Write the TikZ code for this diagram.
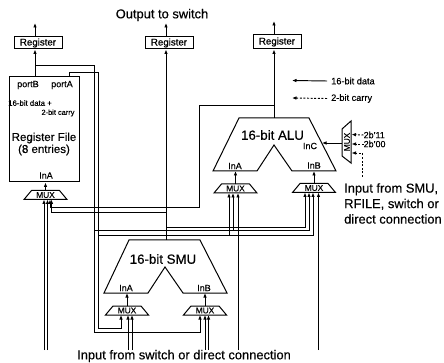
\documentclass[tikz,border=0pt]{standalone}
\usepackage{fontspec}
\setmainfont[FakeBold=0.35]{Liberation Sans}
\usetikzlibrary{arrows.meta,positioning}
\newcommand{\fsz}[2]{\fontsize{#1}{#2}\selectfont}

\begin{document}
\begin{tikzpicture}[x=1pt,y=-1pt,
        unit/.style={draw, line width=1pt, line join=miter},
        regbox/.style={draw, line width=1pt, inner sep=0pt, minimum width=48pt, minimum height=12pt, font=\fsz{9.7}{11}},
        bus/.style={line width=0.95pt, -{Latex[length=4.5pt,width=3.6pt]}},
        carry/.style={bus, dash pattern=on 2pt off 1.6pt},
        muxlabel/.style={inner sep=0pt, font=\fsz{8.3}{9}},
        portlabel/.style={inner sep=0pt, font=\fsz{9}{10}},
        unitlabel/.style={inner sep=0pt, font=\fsz{13.3}{15}},
        rflabel/.style={inner sep=0pt, font=\fsz{11.5}{13}},
        note/.style={inner sep=0pt, font=\fsz{12.9}{15.5}, align=left},
        legend/.style={inner sep=0pt, font=\fsz{9.2}{11}}]
    \useasboundingbox (0,0) rectangle (444,363);

    \node[note] (outlabel) at (162,15) {Output to switch};
    \node[regbox] (reglft) at (38,43) {Register};
    \node[regbox] (regmid) at (169,43) {Register};
    \node[regbox, minimum height=14pt] (regrgt) at (277,42) {Register};

    \node[unit, inner sep=0pt, minimum width=70pt, minimum height=105pt] (rfile) at (44,129.5) {};
    \node[portlabel] (portBtxt) at (28,85) {portB};
    \node[portlabel] (portAtxt) at (62,85) {portA};
    \node[inner sep=0pt, font=\fsz{7.8}{9}] (rfdata) at (30,103) {16-bit data +};
    \node[inner sep=0pt, font=\fsz{7.4}{9}] (rfcarry) at (58,113) {2-bit carry};
    \node[rflabel] (rfname) at (44,138) {Register File};
    \node[rflabel] (rfsize) at (44,150) {(8 entries)};
    \node[portlabel] (rfinA) at (46,175.5) {InA};

    % the two arithmetic blocks
    \draw[unit] (239,118) -- (309,118) -- (336,171) -- (292,171) -- (274,145) -- (257,171) -- (213,171) -- cycle;
    \node[unitlabel] (alu) at (272.5,135) {16-bit ALU};
    \node[portlabel] (aluinA) at (235,166) {InA};
    \node[portlabel] (aluinB) at (314,165.5) {InB};
    \node[portlabel] (aluinC) at (310,146) {InC};
    \draw[unit] (129,240) -- (200,240) -- (227,293) -- (183,293) -- (165,267) -- (148,293) -- (104,293) -- cycle;
    \node[unitlabel] (smu) at (163,259) {16-bit SMU};
    \node[portlabel] (smuinA) at (126,288) {InA};
    \node[portlabel] (smuinB) at (204,288) {InB};

    % multiplexers: name / centre / bottom edge
    \foreach \nm/\cx/\by in {muxrf/45.5/199.5, muxalua/235.5/193, muxalub/314/192.5, muxsmua/127/315, muxsmub/205/315} {
        \draw[unit] (\cx-21.5,\by) -- (\cx-14,\by-9) -- (\cx+14,\by-9) -- (\cx+21.5,\by) -- cycle;
        \node[muxlabel] (\nm) at (\cx,\by-4.5) {MUX};
        \coordinate (\nm-top) at (\cx,\by-9);
        \coordinate (\nm-bot) at (\cx,\by);
    }
    \draw[unit] (342,129) -- (351,121) -- (351,163) -- (342,156) -- cycle;
    \node[muxlabel, rotate=90] (muxc) at (347,142) {MUX};

    \coordinate (alutop) at (274,118);
    \coordinate (smutop) at (166,240);
    \coordinate (portB) at (35,77);
    \coordinate (portA) at (69,77);
    \coordinate (portAup) at (69,72);
    \coordinate (tapB) at (35,65);
    \coordinate (railB) at (94,332);
    \coordinate (railA) at (98,328);
    \coordinate (tapalu) at (274,105);
    \coordinate (turnalu) at (199.5,207);
    \coordinate (tapsmurf) at (166,212);
    \coordinate (tapsmualu) at (166,227);
    \coordinate (hB) at (94,230.5);
    \coordinate (hA) at (98,235);
    \coordinate (inbase) at (0,350);

    % outputs
    \foreach \nm/\xx/\yy in {reglft/35/23, regmid/166/23, regrgt/274/21} {
        \coordinate (\nm-out) at (\xx,\yy);
        \draw[bus] (\nm-out |- \nm.north) -- (\nm-out);
    }
    \draw[bus] (portB) -- (portB |- reglft.south);
    \draw[bus] (smutop) -- (smutop |- regmid.south);
    \draw[bus] (alutop) -- (alutop |- regrgt.south);

    % mux outputs
    \draw[bus] (muxrf-top) -- (muxrf-top |- rfile.south);
    \draw[bus] (muxalua-top) -- (muxalua-top |- 0,171);
    \draw[bus] (muxalub-top) -- (muxalub-top |- 0,171);
    \draw[bus] (muxsmua-top) -- (muxsmua-top |- 0,293);
    \draw[bus] (muxsmub-top) -- (muxsmub-top |- 0,293);

    % feedback rails
    \draw[bus] (tapB) -| (railB) -| ([xshift=-5pt]muxsmub-bot);
    \draw[bus] (portA) -- (portAup) -| (railA) -| ([xshift=-6pt]muxsmua-bot);
    \draw[bus] (tapalu) -| (turnalu) -| ([xshift=4.5pt]muxrf-bot);
    \draw[bus] (tapsmurf) -| ([xshift=6pt]muxrf-bot);
    \draw[bus] (tapsmualu) -| ([xshift=-9pt]muxalub-bot);
    \draw[bus] (hB) -| ([xshift=-5pt]muxalub-bot);
    \draw[bus] (hA) -| ([xshift=-1pt]muxalub-bot);
    \draw[bus] ([xshift=-2.5pt]muxalua-bot |- hB) -- ([xshift=-2.5pt]muxalua-bot);
    \draw[bus] ([xshift=-6.5pt]muxalua-bot |- hA) -- ([xshift=-6.5pt]muxalua-bot);

    % direct inputs from below
    \foreach \nm/\dx in {muxrf/-1.5, muxrf/2, muxalua/2.5, muxalub/4.5, muxsmua/1, muxsmua/5, muxsmub/0, muxsmub/3.5} {
        \draw[bus] ([xshift=\dx pt]\nm-bot |- inbase) -- ([xshift=\dx pt]\nm-bot);
    }

    % carry select
    \coordinate (muxcout) at (342,143);
    \coordinate (aluCin) at (322,143);
    \draw[bus] (muxcout) -- (aluCin);
    \node[inner sep=0pt, anchor=west, font=\fsz{8.9}{10}] (b11) at (363.5,135) {2b'11};
    \node[inner sep=0pt, anchor=west, font=\fsz{8.9}{10}] (b00) at (363.5,144) {2b'00};
    \coordinate (b11in) at (351.5,134.5);
    \coordinate (b00in) at (351.5,144);
    \draw[carry] (b11.west) -- (b11in);
    \draw[carry] (b00.west) -- (b00in);
    \coordinate (carrytail) at (362,177);
    \coordinate (carryin) at (351.5,153);
    \draw[carry] (carrytail) |- (carryin);

    \node[note, anchor=west] (inright) at (344,203.5) {Input from SMU,\\RFILE, switch or\\direct connection};
    \node[note] (inbottom) at (184,356) {Input from switch or direct connection};

    % key
    \node[legend, anchor=west] (keydata) at (331,81) {16-bit data};
    \node[legend, anchor=west] (keycarry) at (331,98.5) {2-bit carry};
    \coordinate (keydatatip) at (292,80.5);
    \coordinate (keycarrytip) at (292,98);
    \draw[bus] ([xshift=-4pt]keydata.west) -- (keydatatip);
    \draw[carry] ([xshift=-4pt]keycarry.west) -- (keycarrytip);
\end{tikzpicture}
\end{document}
